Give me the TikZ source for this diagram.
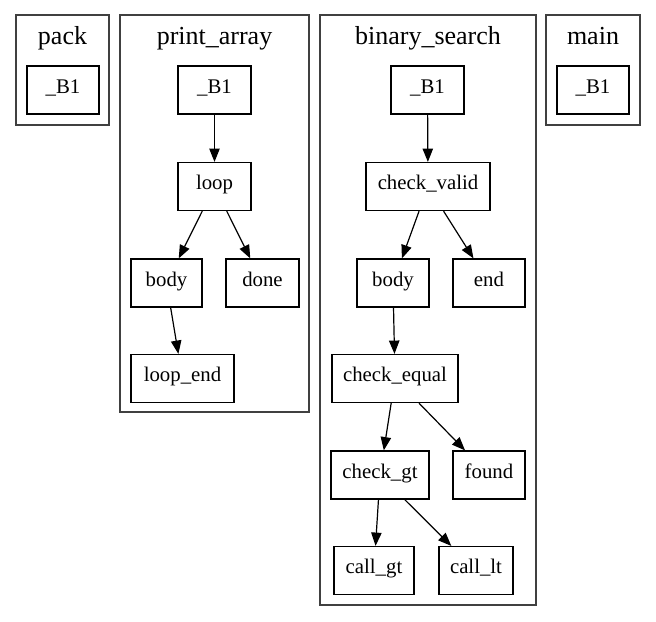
\documentclass[tikz,border=0pt]{standalone}
\usepackage{fontspec}
\setmainfont{Liberation Serif}
\usetikzlibrary{arrows.meta}
\begin{document}
\begin{tikzpicture}[x=0.75pt,y=-0.75pt,
  blk/.style={draw, line width=0.9pt, minimum height=36pt, inner sep=0pt,
              text height=8.6pt, text depth=3.4pt,
              font=\fontsize{15.6}{18}\selectfont},
  clus/.style={draw=black!75, line width=0.9pt},
  ttl/.style={anchor=base, inner sep=0pt, font=\fontsize{19.5}{22}\selectfont},
  edge/.style={-{Triangle[length=10pt,width=7.8pt]}, line width=0.9pt}]
\useasboundingbox (0,0) rectangle (656,621);
% clusters
\draw[clus] (16,15) rectangle (109,125);
\draw[clus] (120,15) rectangle (309,412);
\draw[clus] (320,15) rectangle (536,605);
\draw[clus] (546,15) rectangle (640,125);
\node[ttl] (tpack) at (62.5,44) {pack};
\node[ttl] (tpa) at (214.5,44) {print\_array};
\node[ttl] (tbs) at (428,44) {binary\_search};
\node[ttl] (tmain) at (593,44) {main};
% pack
\node[blk, minimum width=54pt] (packB) at (63,90) {\_B1};
% print_array
\node[blk, minimum width=54.75pt] (paB) at (214.5,90) {\_B1};
\node[blk, minimum width=54.75pt] (loop) at (214.5,186.5) {loop};
\node[blk, minimum width=53.25pt] (pabody) at (166.5,283) {body};
\node[blk, minimum width=54.75pt] (done) at (262.5,283) {done};
\node[blk, minimum width=77.25pt] (loopend) at (182.5,378.5) {loop\_end};
% binary_search
\node[blk, minimum width=54.75pt] (bsB) at (427.5,90) {\_B1};
\node[blk, minimum width=93pt] (cvalid) at (428,186.5) {check\_valid};
\node[blk, minimum width=54pt] (bsbody) at (393,283) {body};
\node[blk, minimum width=54pt] (end) at (489,283) {end};
\node[blk, minimum width=94.5pt] (cequal) at (395,378.5) {check\_equal};
\node[blk, minimum width=73.5pt] (cgt) at (380,475) {check\_gt};
\node[blk, minimum width=54pt] (found) at (489,475) {found};
\node[blk, minimum width=60pt] (callgt) at (374,570.5) {call\_gt};
\node[blk, minimum width=55.5pt] (calllt) at (476,570.5) {call\_lt};
% main
\node[blk, minimum width=54pt] (mainB) at (593,90) {\_B1};
% edges
\draw[edge] (paB) -- (loop);
\draw[edge] (loop) -- (pabody);
\draw[edge] (loop) -- (done);
\draw[edge] (pabody) -- (loopend);
\draw[edge] (bsB) -- (cvalid);
\draw[edge] (cvalid) -- (bsbody);
\draw[edge] (cvalid) -- (end);
\draw[edge] (bsbody) -- (cequal);
\draw[edge] (cequal) -- (cgt);
\draw[edge] (cequal) -- (found);
\draw[edge] (cgt) -- (callgt);
\draw[edge] (cgt) -- (calllt);
\end{tikzpicture}
\end{document}
